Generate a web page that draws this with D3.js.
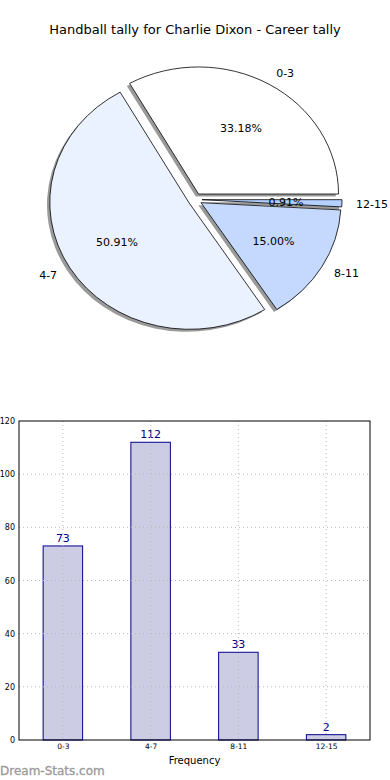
<!DOCTYPE html>
<html><head><meta charset="utf-8">
<script src="https://cdn.jsdelivr.net/npm/d3@7"></script>
<style>body{margin:0;background:#fff}svg{display:block;font-family:"DejaVu Sans",sans-serif}</style>
</head><body>
<script>
const categories = ["0-3","4-7","8-11","12-15"];
const values = [73,112,33,2];
const pieColors = ["#ffffff","#ebf2ff","#c5d9fe","#b4d0ff"];
const yTicks = [0,20,40,60,80,100,120];
const title = "Handball tally for Charlie Dixon - Career tally";

const W=390,H=780;
const svg=d3.select("body").append("svg").attr("width",W).attr("height",H);
svg.append("rect").attr("width",W).attr("height",H).attr("fill","#fff");

svg.append("text").attr("x",195).attr("y",34).attr("text-anchor","middle")
  .attr("font-size",13).attr("fill","#000").text(title);

// ---- Pie ----
const cx=195, cy=199.5, rx=140, ry=127, explode=0.05;
const total=d3.sum(values);
const pie=d3.pie().sort(null).startAngle(Math.PI/2).endAngle(Math.PI/2-2*Math.PI);
const arcs=pie(values);
const arcGen=d3.arc().innerRadius(0).outerRadius(1);
const pg=svg.append("g");
function mid(d){ const a=(d.startAngle+d.endAngle)/2; return Math.PI/2 - a; }
function off(d,k){const t=mid(d);return [cx+k*rx*Math.cos(t), cy-k*ry*Math.sin(t)];}
arcs.forEach(d=>{
  const [ox,oy]=off(d,explode);
  pg.append("path").attr("d",arcGen(d))
    .attr("transform",`translate(${ox-0.02*rx},${oy+0.02*ry}) scale(${rx},${ry})`)
    .attr("fill","#9a9a9a").attr("stroke","none");
});
arcs.forEach((d,i)=>{
  const [ox,oy]=off(d,explode);
  pg.append("path").attr("d",arcGen(d))
    .attr("transform",`translate(${ox},${oy}) scale(${rx},${ry})`)
    .attr("fill",pieColors[i]).attr("stroke","#000").attr("stroke-width",0.8)
    .attr("vector-effect","non-scaling-stroke").attr("stroke-linejoin","round");
});
arcs.forEach((d,i)=>{
  const t=mid(d);
  const [lx,ly]=off(d,explode+1.1);
  pg.append("text").attr("x",lx).attr("y",ly).attr("dy","0.35em")
    .attr("text-anchor",Math.cos(t)>0?"start":"end").attr("font-size",11).attr("fill","#000")
    .text(categories[i]);
  const [px,py]=off(d,explode+0.6);
  pg.append("text").attr("x",px).attr("y",py).attr("dy","0.35em")
    .attr("text-anchor","middle").attr("font-size",11).attr("fill","#000")
    .text((values[i]/total*100).toFixed(2)+"%");
});

// ---- Bars ----
const L=19,R=370,T=421,B=740;
const x=d3.scaleLinear().domain([-0.5,3.5]).range([L,R]);
const y=d3.scaleLinear().domain([0,120]).range([B,T]);
const bg=svg.append("g");
const bw=0.45;
categories.forEach((c,i)=>{
  bg.append("rect").attr("x",x(i-bw/2)).attr("width",x(bw)-x(0))
    .attr("y",y(values[i])).attr("height",B-y(values[i]))
    .attr("fill","#ccccE5").attr("stroke","#00008b").attr("stroke-width",1);
  bg.append("text").attr("x",x(i)).attr("y",y(values[i])-4).attr("text-anchor","middle")
    .attr("font-size",11).attr("fill","#00008b").text(values[i]);
});
categories.forEach((c,i)=>{
  bg.append("line").attr("x1",x(i)).attr("x2",x(i)).attr("y1",T).attr("y2",B)
    .attr("stroke","#b8b8b8").attr("stroke-dasharray","1,3").attr("stroke-width",1);
});
yTicks.forEach(v=>{
  if(v===0||v===120) return;
  bg.append("line").attr("x1",L).attr("x2",R).attr("y1",y(v)).attr("y2",y(v))
    .attr("stroke","#b8b8b8").attr("stroke-dasharray","1,3").attr("stroke-width",1);
});
bg.append("rect").attr("x",L).attr("y",T).attr("width",R-L).attr("height",B-T)
  .attr("fill","none").attr("stroke","#000").attr("stroke-width",1);
const yAxis=d3.axisLeft(y).tickValues(yTicks).tickSize(0).tickPadding(4);
const ya=bg.append("g").attr("transform",`translate(${L},0)`).call(yAxis);
ya.select(".domain").remove();
ya.selectAll("text").attr("font-size",8).attr("font-family","DejaVu Sans").attr("fill","#000");
const xAxis=d3.axisBottom(x).tickValues([0,1,2,3]).tickFormat(i=>categories[i]).tickSize(0).tickPadding(4);
const xa=bg.append("g").attr("transform",`translate(0,${B})`).call(xAxis);
xa.select(".domain").remove();
xa.selectAll("text").attr("font-size",7.5).attr("font-family","DejaVu Sans").attr("fill","#000");
bg.append("text").attr("x",(L+R)/2).attr("y",764).attr("text-anchor","middle")
  .attr("font-size",10).attr("fill","#000").text("Frequency");
svg.append("text").attr("x",0).attr("y",775).attr("font-size",12)
  .attr("fill","#9a9a9a").attr("stroke","#9a9a9a").attr("stroke-width",0.3).text("Dream-Stats.com");
</script>
</body></html>
